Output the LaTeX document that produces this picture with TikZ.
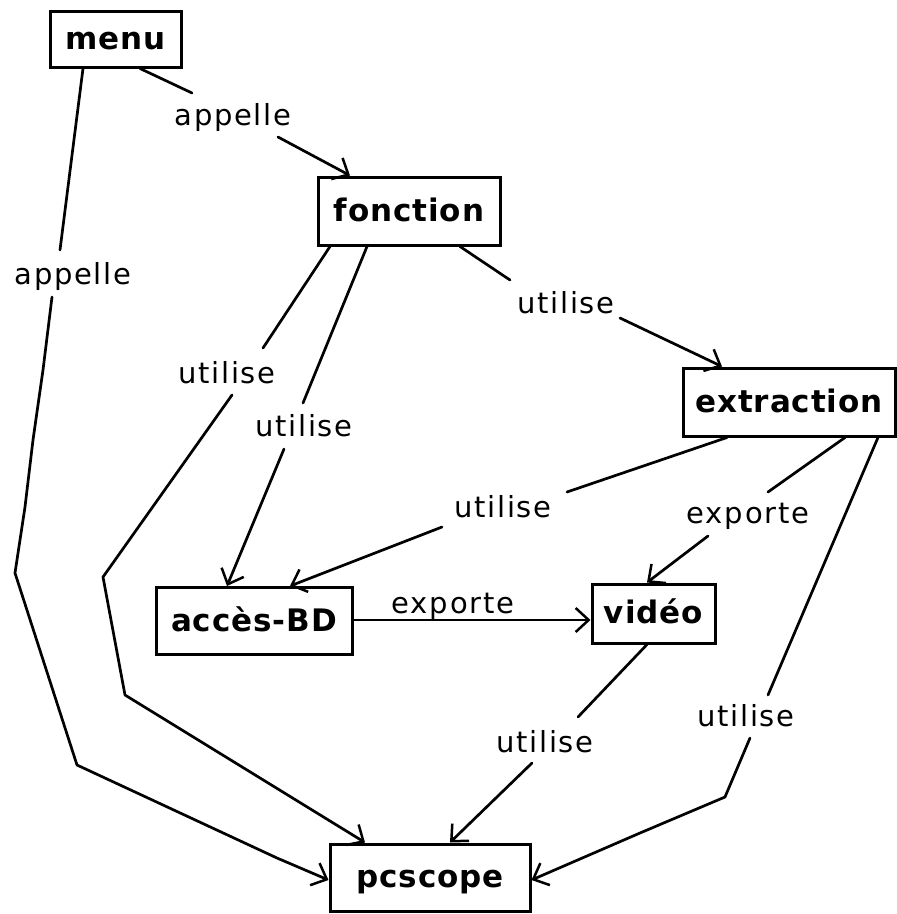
\documentclass[tikz,border=0pt]{standalone}
\usepackage{fontspec}
\newfontfamily\lblfont[LetterSpace=6]{DejaVu Sans}
\newfontfamily\boxfont[LetterSpace=3]{DejaVu Sans}
\usetikzlibrary{arrows.meta}
\begin{document}
\begin{tikzpicture}[x=1pt,y=-1pt,
  box/.style={draw,line width=3pt,inner sep=0pt,text height=20pt,text depth=0pt,
    font=\boxfont\bfseries\fontsize{31}{36}\selectfont},
  lbl/.style={inner sep=0pt,font=\lblfont\fontsize{29}{34}\selectfont},
  conn/.style={line width=2.7pt,line join=round,line cap=round},
  arrowed/.style={conn,-{Straight Barb[length=13pt,width=24pt,line width=2.5pt]}}]
\useasboundingbox (0,0) rectangle (897,914);

% modules
\node[box,minimum width=131pt,minimum height=56pt] (menu) at (115.5,39) {menu};
\node[box,minimum width=182pt,minimum height=68pt] (fonction) at (409,211) {fonction};
\node[box,minimum width=212pt,minimum height=68pt] (extraction) at (789,402) {extraction};
\node[box,minimum width=196pt,minimum height=67pt] (acces) at (254,621) {accès-BD};
\node[box,minimum width=123pt,minimum height=59pt] (video) at (653.5,613.5) {vidéo};
\node[box,minimum width=200pt,minimum height=67pt] (pcscope) at (430,877.5) {pcscope};

% relation labels
\node[lbl] (l1) at (233,117) {appelle};
\node[lbl] (l2) at (73,276) {appelle};
\node[lbl] (l3) at (227,373) {utilise};
\node[lbl] (l4) at (304,426) {utilise};
\node[lbl] (l5) at (566,303) {utilise};
\node[lbl] (l6) at (503,507) {utilise};
\node[lbl] (l7) at (748,516) {exporte};
\node[lbl] (l8) at (453,606) {exporte};
\node[lbl] (l9) at (545,742) {utilise};
\node[lbl] (l10) at (746,716) {utilise};

% ends of the line pieces beside each label
\coordinate (a1) at (192,93);   \coordinate (b1) at (278,137);
\coordinate (a2) at (60,250);   \coordinate (b2) at (52,297);
\coordinate (a3) at (263,348);  \coordinate (b3) at (232,395);
\coordinate (a4) at (303,403);  \coordinate (b4) at (284,449);
\coordinate (a5) at (510,280);  \coordinate (b5) at (620,318);
\coordinate (a6) at (567,492);  \coordinate (b6) at (442,527);
\coordinate (a7) at (768,492);  \coordinate (b7) at (708,536);
\coordinate (a9) at (578,717);  \coordinate (b9) at (532,763);
\coordinate (a10) at (768,695); \coordinate (b10) at (750,738);

% menu appelle fonction
\draw[conn] (menu.south -| 140,0) -- (a1);
\draw[arrowed] (b1) -- (fonction.north -| 350,0);

% menu appelle pcscope
\draw[conn] (menu.south -| 83,0) -- (a2);
\draw[arrowed] (b2) -- (43,370) -- (33,440) -- (25,507) -- (15,573)
  -- (77,765) -- (277,858) -- (pcscope.west |- 0,880);

% fonction utilise pcscope
\draw[conn] (fonction.south -| 330,0) -- (a3);
\draw[arrowed] (b3) -- (103,577) -- (125,695) -- (pcscope.north -| 365,0);

% fonction utilise acces-BD
\draw[conn] (fonction.south -| 367,0) -- (a4);
\draw[arrowed] (b4) -- (acces.north -| 227,0);

% fonction utilise extraction
\draw[conn] (fonction.south -| 460,0) -- (a5);
\draw[arrowed] (b5) -- (extraction.north -| 722,0);

% extraction utilise acces-BD
\draw[conn] (extraction.south -| 727,0) -- (a6);
\draw[arrowed] (b6) -- (acces.north -| 290,0);

% extraction exporte video
\draw[conn] (extraction.south -| 845,0) -- (a7);
\draw[arrowed] (b7) -- (video.north -| 647,0);

% acces-BD exporte video
\draw[arrowed] (acces.east |- 0,620) -- (video.west |- 0,620);

% video utilise pcscope
\draw[conn] (video.south -| 647,0) -- (a9);
\draw[arrowed] (b9) -- (pcscope.north -| 450,0);

% extraction utilise pcscope
\draw[conn] (extraction.south -| 878,0) -- (a10);
\draw[arrowed] (b10) -- (725,797) -- (640,833) -- (pcscope.east |- 0,880);
\end{tikzpicture}
\end{document}
